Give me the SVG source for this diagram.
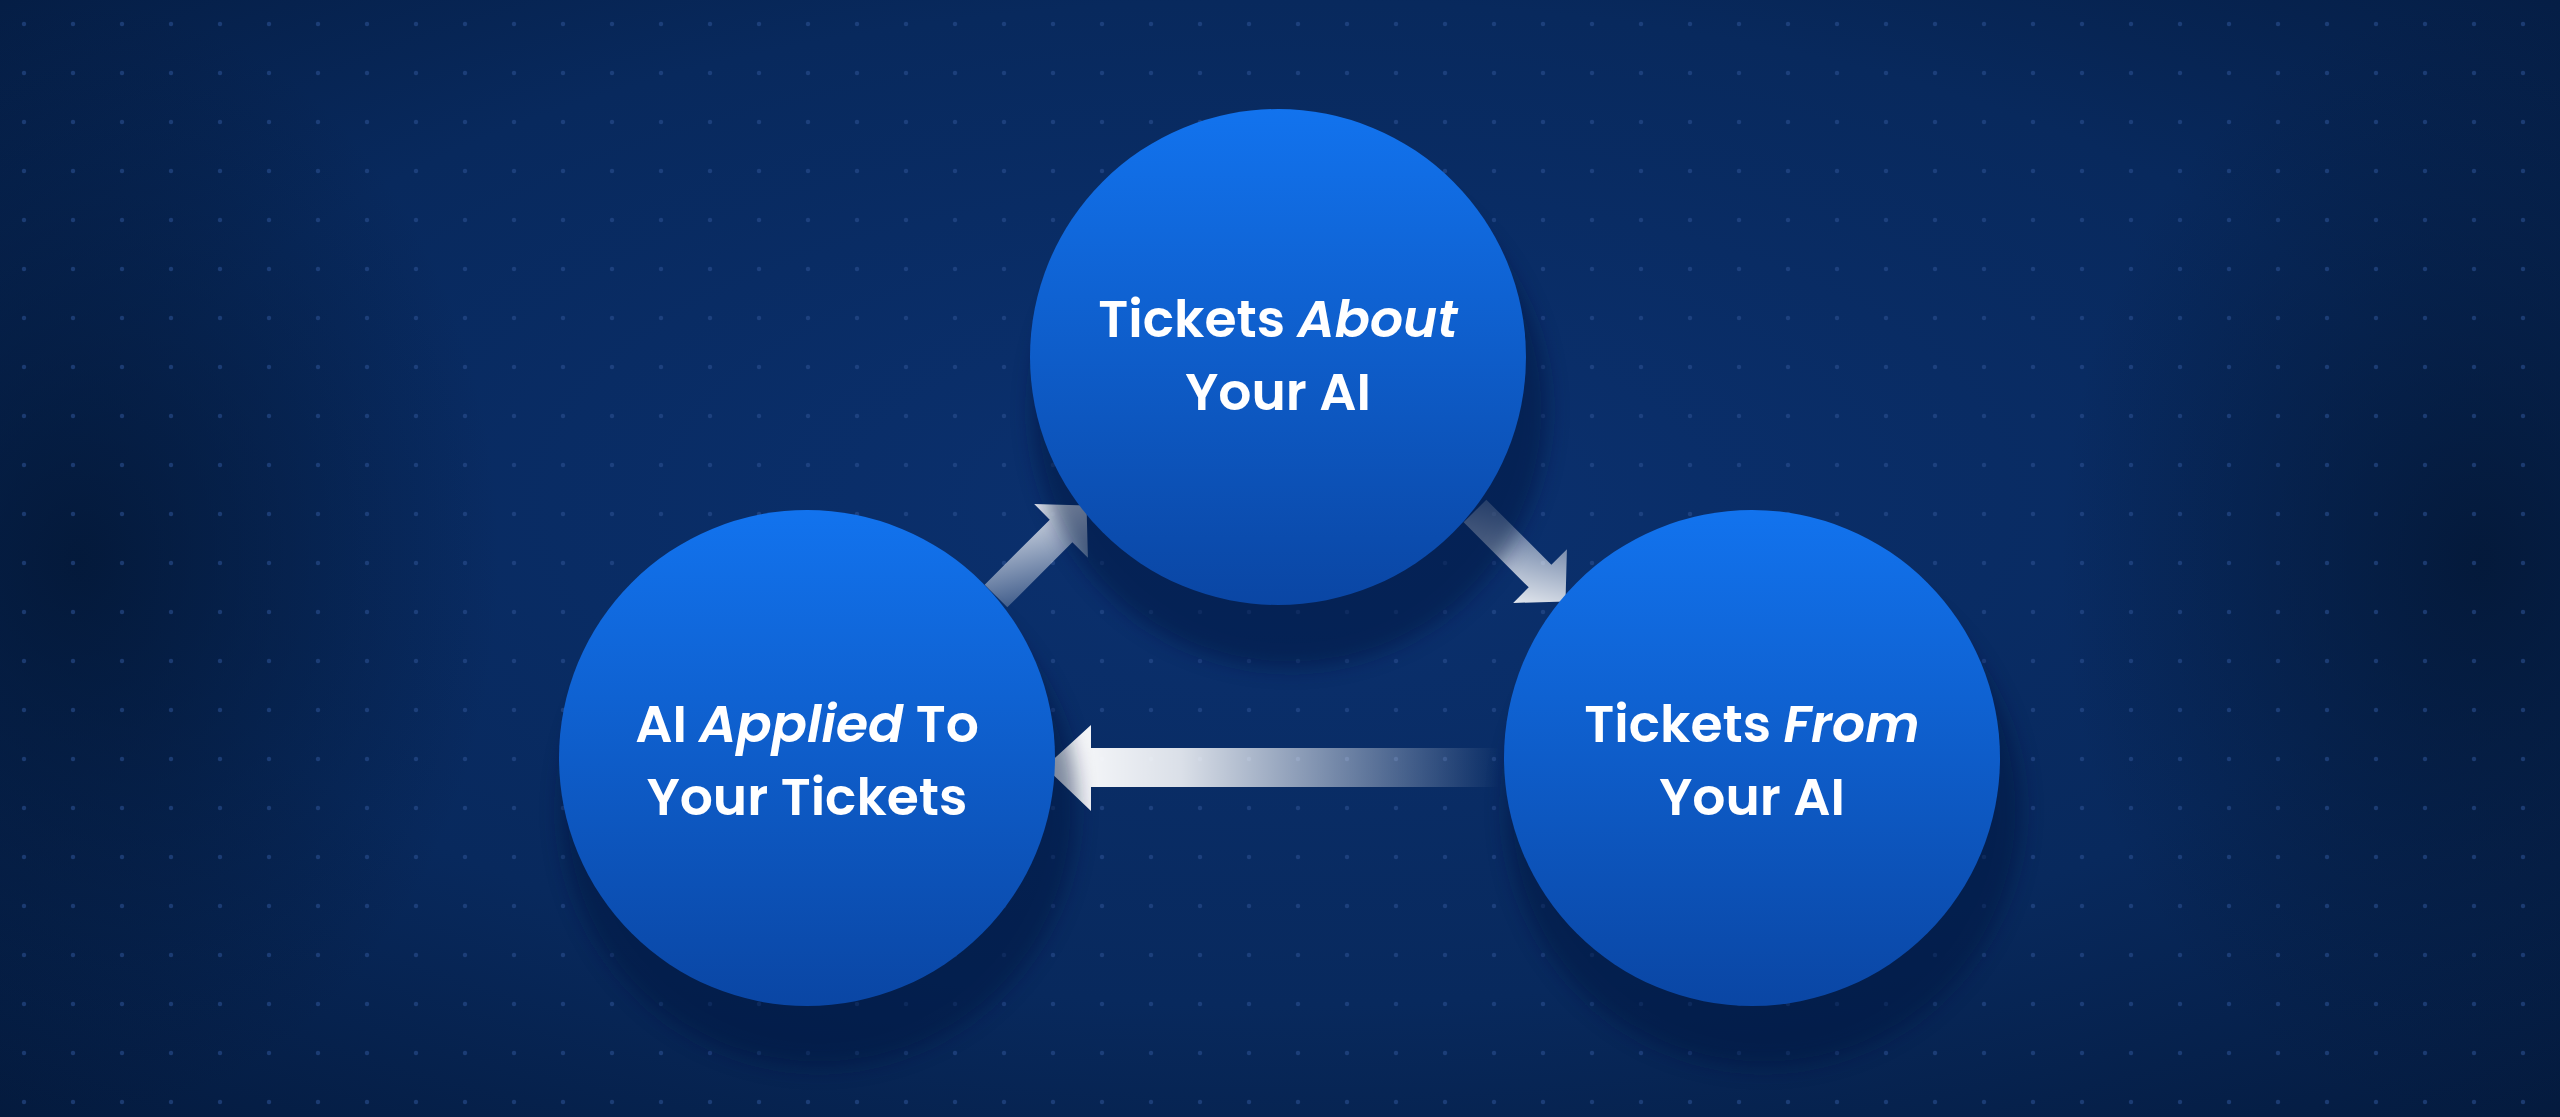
<svg xmlns="http://www.w3.org/2000/svg" width="2560" height="1117" viewBox="0 0 2560 1117">
<defs>
<radialGradient id="bg" cx="0.5" cy="0.45" r="0.75">
<stop offset="0" stop-color="#0b3170"/><stop offset="0.6" stop-color="#08295d"/><stop offset="1" stop-color="#041a3d"/>
</radialGradient>
<radialGradient id="dk" cx="0.5" cy="0.5" r="0.5">
<stop offset="0" stop-color="#031633" stop-opacity="0.8"/><stop offset="1" stop-color="#031633" stop-opacity="0"/>
</radialGradient>
<linearGradient id="cg" x1="0" y1="0" x2="0" y2="1">
<stop offset="0" stop-color="#1273ee"/><stop offset="1" stop-color="#0a46a4"/>
</linearGradient>
<linearGradient id="ah" x1="1" y1="0" x2="0" y2="0">
<stop offset="0" stop-color="#ffffff" stop-opacity="0"/><stop offset="0.7" stop-color="#ffffff" stop-opacity="0.85"/><stop offset="1" stop-color="#ffffff"/>
</linearGradient>
<linearGradient id="ad1" x1="0" y1="1" x2="1" y2="0">
<stop offset="0" stop-color="#ffffff" stop-opacity="0.1"/><stop offset="1" stop-color="#ffffff"/>
</linearGradient>
<linearGradient id="ad2" x1="0" y1="0" x2="1" y2="1">
<stop offset="0" stop-color="#ffffff" stop-opacity="0.15"/><stop offset="1" stop-color="#ffffff"/>
</linearGradient>
<pattern id="dots" width="49" height="49" patternUnits="userSpaceOnUse">
<circle cx="24" cy="24" r="2.2" fill="#2a4f8f" opacity="0.6"/>
</pattern>
<filter id="sh" x="-30%" y="-30%" width="160%" height="160%"><feGaussianBlur stdDeviation="10"/></filter>
<style>
.t{font-family:"Poppins","Inter","Noto Sans",sans-serif;font-weight:600;font-size:52px;fill:#fff;text-anchor:middle}
.i{font-style:italic}
</style>
</defs>
<rect width="2560" height="1117" fill="url(#bg)"/>
<ellipse cx="80" cy="560" rx="420" ry="560" fill="url(#dk)"/>
<ellipse cx="2480" cy="560" rx="420" ry="560" fill="url(#dk)"/>
<rect width="2560" height="1117" fill="url(#dots)"/>
<g id="connectors">
<path d="M1499,748 L1091,748 L1091,725 L1045,767 L1091,811 L1091,787 L1499,787 Z" fill="url(#ah)"/>
<g transform="translate(996,596) rotate(-45)"><path d="M0,-16 L92,-16 L92,-38 L128,0 L92,38 L92,16 L0,16 Z" fill="url(#ad1)"/></g>
<g transform="translate(1475,511) rotate(45)"><path d="M0,-16 L92,-16 L92,-38 L128,0 L92,38 L92,16 L0,16 Z" fill="url(#ad2)"/></g>
</g>
<g id="top">
<circle cx="1290" cy="410" r="258" fill="#04193f" opacity="0.5" filter="url(#sh)"/>
<circle cx="1278" cy="357" r="248" fill="url(#cg)"/>
<text class="t" x="1278" y="337">Tickets <tspan class="i">About</tspan></text>
<text class="t" x="1278" y="410">Your AI</text>
</g>
<g id="left">
<circle cx="819" cy="810" r="258" fill="#04193f" opacity="0.5" filter="url(#sh)"/>
<circle cx="807" cy="758" r="248" fill="url(#cg)"/>
<text class="t" x="807" y="742">AI <tspan class="i">Applied</tspan> To</text>
<text class="t" x="807" y="815">Your Tickets</text>
</g>
<g id="right">
<circle cx="1764" cy="810" r="258" fill="#04193f" opacity="0.5" filter="url(#sh)"/>
<circle cx="1752" cy="758" r="248" fill="url(#cg)"/>
<text class="t" x="1752" y="742">Tickets <tspan class="i">From</tspan></text>
<text class="t" x="1752" y="815">Your AI</text>
</g>
</svg>
